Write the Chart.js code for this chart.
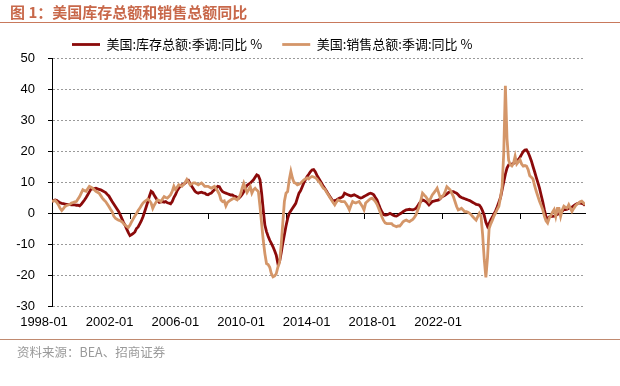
<!DOCTYPE html>
<html>
<head>
<meta charset="utf-8">
<script src="https://cdn.jsdelivr.net/npm/chart.js@4.4.1/dist/chart.umd.min.js"></script>
<style>
  html, body { margin: 0; padding: 0; background: #fff; }
  #wrap { position: relative; width: 620px; height: 386px; overflow: hidden; }
  #title { position: absolute; left: 10px; top: 3px; font: bold 15px "Noto Sans CJK SC", sans-serif; color: #C8684A; line-height: 18px; white-space: nowrap; }
  #topline { position: absolute; left: 0; top: 22px; width: 620px; height: 1px; background: #C8795C; }
  #botline { position: absolute; left: 0; top: 339px; width: 620px; height: 1px; background: #C08A70; }
  #source { position: absolute; left: 17px; top: 344px; font: 12.5px "Noto Sans CJK SC", sans-serif; color: #9a9a9a; line-height: 16px; white-space: nowrap; }
  canvas { position: absolute; left: 0; top: 0; }
</style>
</head>
<body>
<div id="wrap">
  <canvas id="c" width="620" height="386"></canvas>
  <div id="title">图 1：美国库存总额和销售总额同比</div>
  <div id="topline"></div>
  <div id="botline"></div>
  <div id="source">资料来源：BEA、招商证券</div>
</div>
<script>
// Monthly series, 1998-01 .. 2025-05
const seriesNames = ['美国:库存总额:季调:同比 %', '美国:销售总额:季调:同比 %'];
const xTickLabels = ['1998-01', '2002-01', '2006-01', '2010-01', '2014-01', '2018-01', '2022-01'];
const yTicks = [-30, -20, -10, 0, 10, 20, 30, 40, 50];

const inventory = [
  3.7, 4.0, 4.2, 4.0, 3.6, 3.3, 3.1, 3.0, 2.9, 2.8, 2.7, 2.7,      // 1998
  2.6, 2.6, 2.6, 2.5, 2.5, 2.3, 2.8, 3.5, 4.2, 5.0, 5.9, 6.8,      // 1999
  7.7, 7.8, 7.9, 8.0, 7.8, 7.6, 7.5, 7.2, 6.9, 6.6, 6.0, 5.5,      // 2000
  4.6, 3.7, 2.9, 2.1, 1.3, 0.5, -0.6, -1.8, -3.0, -4.0, -5.2, -6.3, // 2001
  -7.3, -7.0, -6.6, -6.1, -5.0, -4.5, -3.5, -2.5, -1.2, 0.4, 2.0, 3.7, // 2002
  5.5, 7.0, 6.6, 5.6, 4.8, 4.0, 3.4, 3.6, 3.7, 3.5, 3.7, 3.3,      // 2003
  3.2, 3.0, 3.7, 5.0, 5.9, 7.2, 8.0, 8.6, 9.1, 9.3, 9.7, 10.2,     // 2004
  10.5, 9.5, 8.6, 7.8, 7.0, 6.6, 6.4, 6.6, 6.7, 6.5, 6.4, 6.0,     // 2005
  5.9, 6.2, 6.4, 7.0, 7.5, 8.0, 8.6, 8.5, 7.5, 6.9, 6.6, 6.4,      // 2006
  6.2, 6.0, 5.8, 5.8, 5.5, 5.3, 5.0, 4.8, 5.3, 6.0, 6.8, 8.1,      // 2007
  8.9, 9.3, 9.6, 10.2, 10.7, 11.5, 12.3, 12.0, 10.7, 6.4, 1.0, -3.9, // 2008
  -6.0, -7.5, -8.8, -9.8, -10.9, -12.2, -13.6, -16.3, -15.8, -13.0, -9.8, -7.0, // 2009
  -4.2, -1.8, -0.1, 0.7, 1.5, 2.3, 3.1, 4.8, 6.4, 7.2, 8.5, 9.8,   // 2010
  10.8, 11.8, 12.5, 13.3, 13.9, 14.0, 13.3, 12.2, 11.3, 10.4, 9.5, 8.6, // 2011
  7.8, 7.0, 6.1, 5.3, 4.5, 3.7, 4.0, 4.2, 4.5, 4.8, 5.0, 5.3,      // 2012
  6.4, 6.1, 5.9, 5.7, 5.5, 5.7, 5.9, 5.6, 5.3, 5.0, 4.8, 5.0,      // 2013
  5.3, 5.6, 5.9, 6.2, 6.4, 6.2, 5.9, 5.0, 4.2, 2.8, 1.5, 0.4,      // 2014
  -0.5, -0.7, -0.6, -0.4, -0.1, -0.4, -0.7, -0.9, -1.0, -0.7, -0.3, 0.0, // 2015
  0.4, 0.7, 1.0, 1.1, 1.2, 1.1, 1.0, 1.2, 1.5, 2.2, 3.1, 3.7,      // 2016
  4.2, 4.0, 3.7, 3.2, 2.6, 3.1, 3.7, 3.8, 4.0, 4.1, 4.2, 4.7,      // 2017
  5.3, 5.5, 5.8, 6.2, 6.6, 6.8, 6.9, 6.9, 6.6, 6.4, 5.9, 5.3,      // 2018
  5.0, 4.8, 4.6, 4.4, 4.2, 4.0, 3.7, 3.4, 3.1, 2.8, 2.7, 2.5,      // 2019
  1.8, 0.6, -0.8, -3.0, -4.3, -3.4, -2.2, -1.3, -0.3, 0.7, 2.0, 3.5, // 2020
  5.0, 7.5, 10.0, 12.5, 14.5, 15.5, 15.6, 15.8, 16.0, 16.3, 16.8, 17.2, // 2021
  18.0, 18.9, 19.8, 20.3, 20.4, 19.5, 18.2, 16.8, 15.0, 13.3, 11.5, 9.8, // 2022
  8.0, 5.8, 3.6, 1.0, -1.2, -2.0, -1.3, -1.1, -1.1, -1.0, -0.7, -0.5, // 2023
  -0.2, 0.1, 0.6, 1.1, 1.1, 1.2, 1.5, 1.8, 1.9, 2.3, 2.7, 3.0,     // 2024
  3.2, 3.2, 3.1, 2.9, 2.4                                          // 2025
];

const sales = [
  3.7, 3.9, 4.0, 3.4, 2.6, 1.5, 0.8, 1.4, 2.1, 2.4, 2.6, 2.8,      // 1998
  3.2, 3.4, 3.6, 3.7, 4.5, 5.3, 6.4, 7.5, 7.2, 7.0, 7.8, 8.6,      // 1999
  8.3, 8.0, 7.5, 7.0, 6.7, 6.4, 5.6, 4.8, 4.2, 3.7, 2.9, 2.1,      // 2000
  1.2, 0.4, -1.0, -1.7, -2.0, -2.3, -2.5, -2.8, -3.4, -3.9, -4.3, -4.7, // 2001
  -3.9, -2.8, -1.9, -1.0, -0.2, 0.8, 1.5, 2.4, 3.2, 3.7, 4.1, 4.5, // 2002
  4.0, 3.2, 1.5, 2.6, 3.5, 4.2, 4.0, 3.7, 4.5, 5.3, 5.0, 4.8,      // 2003
  5.3, 5.9, 7.0, 8.6, 7.5, 8.3, 9.1, 8.9, 8.6, 9.2, 9.9, 10.8,     // 2004
  10.0, 9.1, 9.4, 9.7, 9.7, 9.4, 9.1, 9.4, 9.7, 9.2, 8.6, 8.6,     // 2005
  8.6, 8.3, 8.0, 8.3, 8.6, 7.8, 7.0, 6.0, 4.2, 3.7, 3.9, 2.3,      // 2006
  3.4, 3.8, 4.2, 4.5, 4.8, 4.5, 4.2, 5.0, 6.0, 8.0, 9.6, 8.0,      // 2007
  6.6, 7.5, 8.5, 6.4, 7.5, 8.0, 7.4, 6.9, 2.1, -3.4, -8.8, -13.1,  // 2008
  -16.3, -16.6, -17.5, -19.6, -20.6, -20.3, -19.6, -17.5, -16.0, -10.5, -3.4, 3.7, // 2009
  6.4, 6.9, 10.7, 13.4, 11.2, 9.8, 9.6, 9.1, 9.3, 9.6, 10.2, 10.7, // 2010
  11.0, 11.3, 11.0, 11.5, 11.8, 11.6, 11.4, 11.0, 10.2, 9.7, 8.8, 8.0, // 2011
  7.6, 6.7, 5.9, 5.0, 4.2, 3.4, 2.6, 3.5, 4.2, 4.0, 3.7, 3.7,      // 2012
  3.7, 3.0, 2.1, 1.0, 2.5, 3.7, 3.4, 3.2, 3.5, 3.7, 2.9, 2.1,      // 2013
  1.0, 3.2, 3.7, 4.2, 4.6, 4.8, 4.3, 3.7, 2.8, 1.5, 0.2, -1.2,     // 2014
  -2.4, -3.2, -3.4, -3.4, -3.4, -3.4, -4.0, -4.2, -4.4, -4.2, -4.2, -3.6, // 2015
  -2.8, -2.5, -2.3, -2.6, -2.8, -2.4, -2.1, -1.4, -0.6, 0.8, 2.1, 4.2, // 2016
  6.4, 5.8, 5.3, 4.5, 3.7, 4.7, 5.8, 6.5, 7.2, 8.0, 6.4, 4.8,      // 2017
  5.3, 5.8, 7.0, 8.5, 8.0, 7.5, 6.4, 5.3, 3.7, 2.1, 1.0, 1.2,      // 2018
  1.5, 1.0, 0.4, 0.4, 0.2, -0.1, -0.6, -1.2, -1.8, -2.3, -1.2, -0.1, // 2019
  -1.0, -7.0, -15.0, -20.8, -14.5, -5.0, -3.5, -2.3, -1.0, 0.0, 1.2, 2.2, // 2020
  5.0, 8.5, 19.5, 41.0, 24.0, 17.0, 15.6, 15.2, 16.0, 18.3, 15.8, 16.5, // 2021
  17.2, 15.8, 15.1, 15.3, 15.1, 14.0, 12.0, 11.5, 11.0, 8.8, 7.0, 5.4, // 2022
  3.8, 2.5, 1.1, -1.0, -2.5, -3.2, -1.6, -0.8, 0.3, 1.1, -1.1, 1.5, // 2023
  1.5, -1.1, 1.0, 2.2, 1.8, 1.6, 2.7, 1.6, 0.5, 1.4, 2.2, 2.8,     // 2024
  3.2, 3.6, 3.8, 3.3, 2.7                                          // 2025
];

const colors = ['#8B0A0A', '#D49669'];
const lastIndex = inventory.length - 1;
const toPts = arr => arr.map((v, i) => ({ x: i, y: v }));

new Chart(document.getElementById('c'), {
  type: 'line',
  data: {
    datasets: [
      { label: seriesNames[0], data: toPts(inventory), borderColor: colors[0], backgroundColor: colors[0],
        borderWidth: 2.8, pointRadius: 0, tension: 0, order: 1, xAxisID: 'x', yAxisID: 'y' },
      { label: seriesNames[1], data: toPts(sales), borderColor: colors[1], backgroundColor: colors[1],
        borderWidth: 2.8, pointRadius: 0, tension: 0, order: 0, xAxisID: 'x', yAxisID: 'y' }
    ]
  },
  options: {
    responsive: false,
    animation: false,
    layout: { padding: { top: 18, right: 35, bottom: 0, left: 0 } },
    plugins: {
      tooltip: { enabled: false },
      legend: {
        position: 'top',
        align: 'start',
        fullSize: false,
        maxHeight: 40,
        labels: {
          usePointStyle: true,
          pointStyle: 'line',
          pointStyleWidth: 28,
          boxHeight: 3,
          padding: 20,
          color: '#000',
          font: { family: '"Noto Sans CJK SC", sans-serif', size: 13 },
          sort: (a, b) => a.datasetIndex - b.datasetIndex
        }
      }
    },
    scales: {
      x: {
        type: 'linear',
        position: { y: 0 },
        min: 0,
        max: lastIndex,
        ticks: { display: false, stepSize: 48, includeBounds: false },
        grid: { drawOnChartArea: false, drawTicks: true, tickLength: 5, tickColor: '#000', color: '#000' },
        border: { color: '#000', width: 1 }
      },
      x2: {
        type: 'linear',
        position: 'bottom',
        min: 0,
        max: 533 / 65.67,
        afterFit: s => { s.height = 80; },
        ticks: {
          stepSize: 1,
          includeBounds: false,
          autoSkip: false,
          maxRotation: 0,
          padding: 9,
          labelOffset: -8,
          color: '#000',
          font: { family: '"Liberation Sans", Arial, sans-serif', size: 13 },
          callback: v => (Number.isInteger(v) && xTickLabels[v] !== undefined) ? xTickLabels[v] : null
        },
        grid: { display: false, drawTicks: false },
        border: { display: false }
      },
      y: {
        type: 'linear',
        position: 'left',
        min: yTicks[0],
        max: yTicks[yTicks.length - 1],
        afterFit: s => { s.width = 52; },
        afterBuildTicks: s => { s.ticks = yTicks.map(v => ({ value: v })); },
        ticks: {
          padding: 13,
          color: '#000',
          font: { family: '"Liberation Sans", Arial, sans-serif', size: 13 }
        },
        grid: {
          color: c => (c.tick && c.tick.value === 0) ? 'rgba(0,0,0,0)' : '#9a9a9a',
          tickColor: '#000',
          tickLength: 4,
          lineWidth: 1
        },
        border: { color: '#000', width: 1, dash: [2, 2] }
      }
    }
  }
});
</script>
</body>
</html>
